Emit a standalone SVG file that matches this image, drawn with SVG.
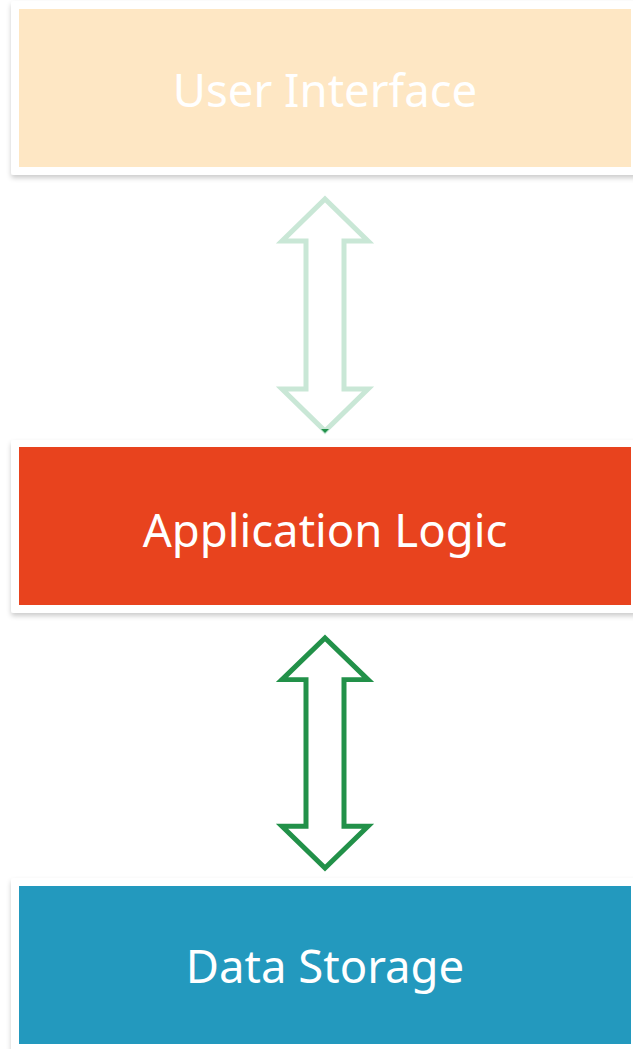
<svg xmlns="http://www.w3.org/2000/svg" width="633" height="1049" viewBox="0 0 633 1049">
  <defs>
    <filter id="cardShadow" x="-10%" y="-10%" width="120%" height="130%">
      <feDropShadow dx="0" dy="3" stdDeviation="2.5" flood-color="#000" flood-opacity="0.2"/>
    </filter>
    <!-- double-headed hollow arrow, tips at y=0 and y=232 -->
    <path id="dblArrow" d="M325,0 L368,42 L344,42 L344,190 L368,190 L325,232 L282,190 L306,190 L306,42 L282,42 Z"/>
  </defs>
  <style>
    .card { fill: #ffffff; filter: url(#cardShadow); }
    .label { font-family: "Noto Sans", "Open Sans", sans-serif; font-size: 45.5px; text-anchor: middle; }
    .arrow { fill: #ffffff; stroke-width: 5; stroke-linejoin: miter; }
  </style>
  <rect width="633" height="1049" fill="#ffffff"/>

  <g id="connectors">
    <use href="#dblArrow" class="arrow" stroke="#c9e7d6" transform="translate(0,199)"/>
    <path d="M321,429 L329,429 L325,433 Z" fill="#22914a"/>
    <use href="#dblArrow" class="arrow" stroke="#229149" transform="translate(0,638) scale(1,0.991)"/>
  </g>

  <g id="user-interface">
    <rect class="card" x="11" y="1" width="630" height="174" rx="3"/>
    <rect x="19" y="9" width="612" height="158" fill="#fee7c4"/>
    <text class="label" x="325" y="107" fill="#ffffff">User Interface</text>
  </g>

  <g id="application-logic">
    <rect class="card" x="11" y="440" width="630" height="173" rx="3"/>
    <rect x="19" y="447" width="612" height="158" fill="#e8431e"/>
    <text class="label" x="325" y="547" fill="#ffffff">Application Logic</text>
  </g>

  <g id="data-storage">
    <rect class="card" x="11" y="878" width="630" height="190" rx="3"/>
    <rect x="19" y="886" width="612" height="158" fill="#2399be"/>
    <text class="label" x="325" y="983" fill="#ffffff">Data Storage</text>
  </g>
</svg>
